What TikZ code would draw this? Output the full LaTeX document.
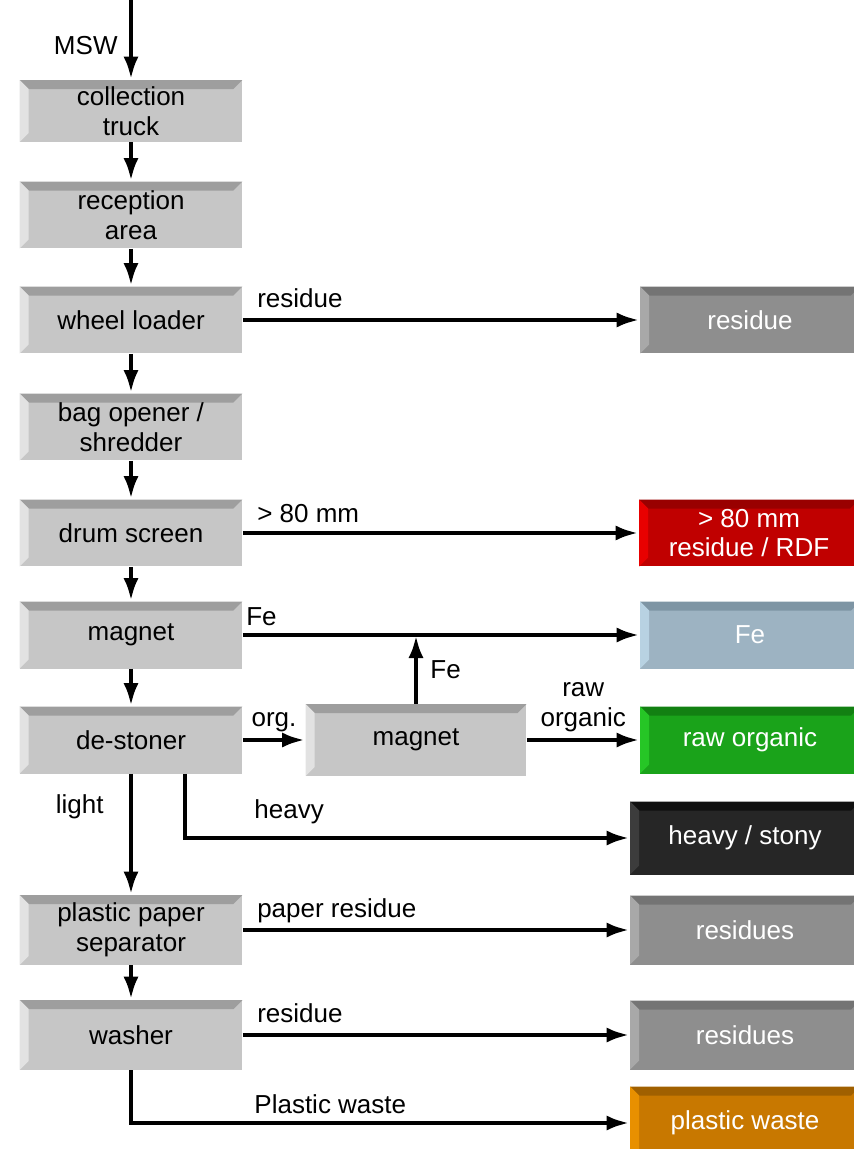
\documentclass[tikz,border=0pt]{standalone}
\usepackage{fontspec}
\setmainfont{Liberation Sans}
\usepackage{tikz}
\usetikzlibrary{positioning}
\usetikzlibrary{arrows.meta}

\definecolor{facegrey}{HTML}{C6C6C6}
\definecolor{topgrey}{HTML}{9E9E9E}
\definecolor{leftgrey}{HTML}{E2E2E2}
\definecolor{facedark}{HTML}{8E8E8E}
\definecolor{topdark}{HTML}{747474}
\definecolor{leftdark}{HTML}{A8A8A8}
\definecolor{facered}{HTML}{C00000}
\definecolor{topred}{HTML}{990000}
\definecolor{leftred}{HTML}{E80000}
\definecolor{facefe}{HTML}{9DB3C2}
\definecolor{topfe}{HTML}{7E95A4}
\definecolor{leftfe}{HTML}{B8D2E2}
\definecolor{facegreen}{HTML}{1AA31A}
\definecolor{topgreen}{HTML}{128012}
\definecolor{leftgreen}{HTML}{26C626}
\definecolor{faceblack}{HTML}{262626}
\definecolor{topblack}{HTML}{101010}
\definecolor{leftblack}{HTML}{3C3C3C}
\definecolor{faceorange}{HTML}{C87800}
\definecolor{toporange}{HTML}{A06000}
\definecolor{leftorange}{HTML}{E89000}

\tikzset{
  bevel/.style 2 args={path picture={
    \fill[#1] (path picture bounding box.north west) -- (path picture bounding box.north east)
      -- ([shift={(-0.18cm,-0.18cm)}]path picture bounding box.north east)
      -- ([shift={(0.18cm,-0.18cm)}]path picture bounding box.north west) -- cycle;
    \fill[#2] (path picture bounding box.north west)
      -- ([shift={(0.18cm,-0.18cm)}]path picture bounding box.north west)
      -- ([shift={(0.18cm,0.18cm)}]path picture bounding box.south west)
      -- (path picture bounding box.south west) -- cycle;
  }},
  stage/.style={fill=facegrey, bevel={topgrey}{leftgrey}, minimum width=4.46cm,
    minimum height=1.34cm, inner sep=0pt, align=center},
  outbox/.style n args={3}{fill=#1, bevel={#2}{#3}, text=white, minimum width=4.4cm,
    minimum height=1.34cm, inner sep=0pt, align=center},
  flow/.style={line width=2.8pt, ->},
  lbl/.style={inner sep=0pt, anchor=base west},
}

\begin{document}
\begin{tikzpicture}[x=0.02cm, y=-0.02cm, >={Latex[length=0.46cm,width=0.3cm]},
    font=\fontsize{14.8}{17}\selectfont]
    \useasboundingbox (0,0) rectangle (854,1149);

    % main line
    \coordinate (in) at (131,0);
    \node[stage, minimum height=1.24cm] (truck) at (131,111) {collection\\truck};
    \node[stage] (reception) at (131,215) {reception\\area};
    \node[stage] (loader) at (131,320) {wheel loader};
    \node[stage] (opener) at (131,427) {bag opener /\\shredder};
    \node[stage] (drum) at (131,533) {drum screen};
    \node[stage] (magnet) at (131,635) {magnet};
    \node[stage] (destoner) at (131,740) {de-stoner};
    \node[stage, minimum height=1.4cm] (separator) at (131,930) {plastic paper\\separator};
    \node[stage, minimum height=1.4cm] (washer) at (131,1035) {washer};
    \node[stage, minimum width=4.42cm, minimum height=1.44cm] (magnettwo) at (416,740) {magnet};

    % outputs
    \node[outbox={facedark}{topdark}{leftdark}] (residue) at (750,320) {residue};
    \node[outbox={facered}{topred}{leftred}] (rdf) at (749,533) {> 80 mm\\residue / RDF};
    \node[outbox={facefe}{topfe}{leftfe}] (fe) at (750,635) {Fe};
    \node[outbox={facegreen}{topgreen}{leftgreen}] (organic) at (750,740) {raw organic};
    \node[outbox={faceblack}{topblack}{leftblack}, minimum width=4.6cm, minimum height=1.46cm] (stony) at (745,838) {heavy / stony};
    \node[outbox={facedark}{topdark}{leftdark}, minimum width=4.6cm, minimum height=1.38cm] (residues) at (745,930) {residues};
    \node[outbox={facedark}{topdark}{leftdark}, minimum width=4.6cm, minimum height=1.38cm] (residuestwo) at (745,1035) {residues};
    \node[outbox={faceorange}{toporange}{leftorange}, minimum width=4.6cm, minimum height=1.46cm] (plastic) at (745,1123) {plastic waste};

    \draw[flow] (in) -- (truck) node[pos=0.57, left=0.22cm, inner sep=0pt] {MSW};
    \draw[flow] (truck) -- (reception);
    \draw[flow] (reception) -- (loader);
    \draw[flow] (loader) -- (opener);
    \draw[flow] (opener) -- (drum);
    \draw[flow] (drum) -- (magnet);
    \draw[flow] (magnet) -- (destoner);
    \draw[flow] (destoner) -- (separator) node[pos=0.27, left=0.5cm, inner sep=0pt] {light};
    \draw[flow] (separator) -- (washer);

    \draw[flow] (loader.east) -- (residue.west)
        node[pos=0, lbl, xshift=0.24cm, yshift=0.26cm] {residue};
    \draw[flow] (drum.east) -- (rdf.west)
        node[pos=0, lbl, xshift=0.24cm, yshift=0.22cm] {> 80 mm};
    \draw[flow] (magnet.east) -- (fe.west)
        node[pos=0, lbl, xshift=0.02cm, yshift=0.2cm] {Fe};
    \draw[flow] (magnettwo.north) -- (magnettwo.north |- magnet.east)
        node[midway, right=0.24cm, inner sep=0pt] {Fe};
    \draw[flow] (destoner.east) -- (magnettwo.west)
        node[midway, above] {org.};
    \draw[flow] (magnettwo.east) -- (organic.west)
        node[midway, above, align=center] {raw\\organic};
    \draw[flow] ([xshift=1.08cm]destoner.south) |- (stony.west)
        node[pos=0.5, lbl, xshift=1.34cm, yshift=0.4cm] {heavy};
    \draw[flow] (separator.east) -- (residues.west)
        node[pos=0, lbl, xshift=0.24cm, yshift=0.26cm] {paper residue};
    \draw[flow] (washer.east) -- (residuestwo.west)
        node[pos=0, lbl, xshift=0.24cm, yshift=0.26cm] {residue};
    \draw[flow] (washer) |- (plastic.west)
        node[pos=0.5, lbl, xshift=2.42cm, yshift=0.2cm] {Plastic waste};
\end{tikzpicture}
\end{document}
